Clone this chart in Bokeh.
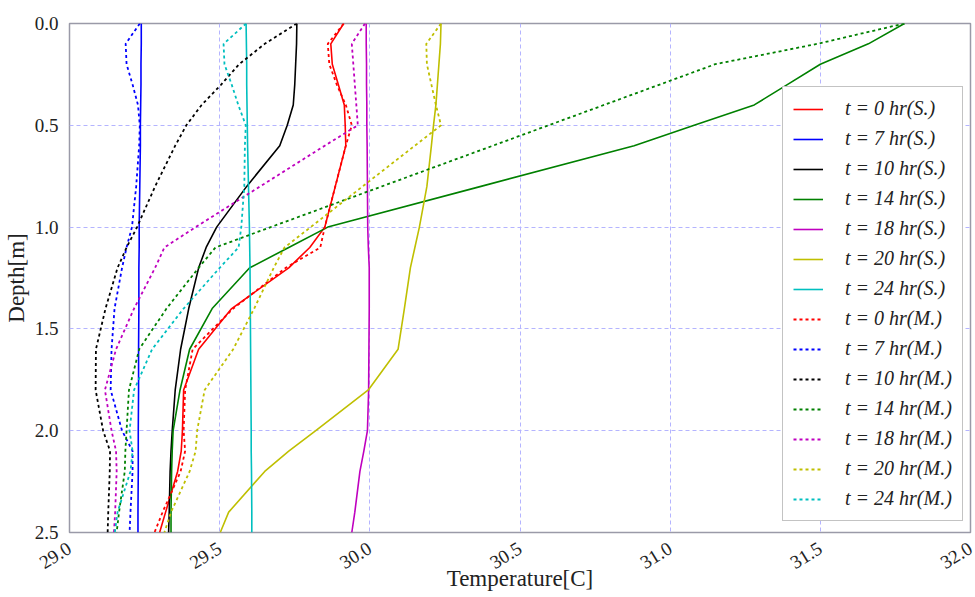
import math
from bokeh.plotting import figure
from bokeh.models import Range1d, Legend, LegendItem, FixedTicker, NumeralTickFormatter
from bokeh.embed import file_html
from bokeh.resources import INLINE

# ---------------- data ----------------
depth = [0.0, 0.1, 0.2, 0.3, 0.4, 0.5, 0.6, 0.8, 1.0, 1.1, 1.2, 1.4, 1.6, 1.8, 2.0, 2.1, 2.2, 2.4, 2.5]

# simulation (S.)
t0_s  = [29.913, 29.870, 29.875, 29.895, 29.915, 29.918, 29.920, 29.885, 29.850, 29.800, 29.730, 29.540, 29.430, 29.380, 29.376, 29.372, 29.360, 29.320, 29.300]
t7_s  = [29.239, 29.239, 29.238, 29.238, 29.237, 29.236, 29.236, 29.234, 29.232, 29.232, 29.231, 29.231, 29.230, 29.230, 29.229, 29.229, 29.229, 29.228, 29.228]
t10_s = [29.757, 29.756, 29.753, 29.750, 29.745, 29.725, 29.700, 29.590, 29.490, 29.455, 29.430, 29.397, 29.370, 29.352, 29.342, 29.338, 29.335, 29.332, 29.330]
t14_s = [31.780, 31.660, 31.500, 31.390, 31.280, 31.080, 30.880, 30.370, 29.860, 29.730, 29.600, 29.475, 29.400, 29.368, 29.345, 29.342, 29.340, 29.338, 29.338]
t18_s = [29.988, 29.988, 29.989, 29.989, 29.990, 29.990, 29.991, 29.992, 29.993, 29.995, 29.998, 29.998, 29.997, 29.996, 29.992, 29.980, 29.967, 29.950, 29.940]
t20_s = [30.237, 30.235, 30.230, 30.225, 30.220, 30.212, 30.205, 30.190, 30.165, 30.150, 30.135, 30.115, 30.094, 29.995, 29.820, 29.730, 29.650, 29.530, 29.502]
t24_s = [29.588, 29.589, 29.590, 29.590, 29.591, 29.592, 29.593, 29.596, 29.599, 29.600, 29.601, 29.602, 29.603, 29.604, 29.605, 29.605, 29.606, 29.607, 29.607]

# measurement (M.)
t0_m  = [29.913, 29.860, 29.865, 29.890, 29.920, 29.940, 29.920, 29.885, 29.850, 29.835, 29.720, 29.545, 29.410, 29.385, 29.380, 29.385, 29.370, 29.310, 29.283]
t7_m  = [29.234, 29.187, 29.190, 29.210, 29.228, 29.234, 29.232, 29.222, 29.208, 29.190, 29.175, 29.150, 29.140, 29.137, 29.175, 29.210, 29.210, 29.203, 29.200]
t10_m = [29.757, 29.650, 29.565, 29.505, 29.440, 29.389, 29.352, 29.285, 29.225, 29.190, 29.160, 29.120, 29.088, 29.087, 29.112, 29.135, 29.134, 29.129, 29.127]
t14_m = [31.780, 31.490, 31.150, 30.965, 30.780, 30.595, 30.410, 30.040, 29.670, 29.486, 29.430, 29.323, 29.232, 29.198, 29.190, 29.186, 29.184, 29.165, 29.157]
t18_m = [29.984, 29.940, 29.945, 29.950, 29.955, 29.960, 29.850, 29.635, 29.420, 29.316, 29.285, 29.215, 29.155, 29.118, 29.140, 29.155, 29.157, 29.152, 29.148]
t20_m = [30.237, 30.188, 30.190, 30.205, 30.220, 30.237, 30.150, 29.976, 29.803, 29.716, 29.680, 29.615, 29.545, 29.450, 29.425, 29.420, 29.400, 29.338, 29.316]
t24_m = [29.588, 29.513, 29.516, 29.540, 29.562, 29.587, 29.584, 29.582, 29.572, 29.563, 29.500, 29.380, 29.275, 29.215, 29.200, 29.210, 29.203, 29.160, 29.151]

hours = [0, 7, 10, 14, 18, 20, 24]
colors = ["#ff0000", "#0000ff", "#000000", "#008000", "#bf00bf", "#bfbf00", "#00bfbf"]
sim_series = [t0_s, t7_s, t10_s, t14_s, t18_s, t20_s, t24_s]
meas_series = [t0_m, t7_m, t10_m, t14_m, t18_m, t20_m, t24_m]

x_ticks = [29.0, 29.5, 30.0, 30.5, 31.0, 31.5, 32.0]
y_ticks = [0.0, 0.5, 1.0, 1.5, 2.0, 2.5]

SERIF = "Liberation Serif"
TXT = "#222222"

p = figure(width=975, height=597, output_backend="svg", toolbar_location=None,
           x_range=Range1d(29.0, 32.0), y_range=Range1d(2.5, 0.0),
           min_border_left=69, min_border_right=5, min_border_top=23, min_border_bottom=65)

p.outline_line_color = "#9a9aa8"
p.outline_line_width = 1.5
p.background_fill_color = "white"
p.border_fill_color = "white"

for g in (p.xgrid, p.ygrid):
    g.grid_line_color = "#b4b4ff"
    g.grid_line_alpha = 1.0
    g.grid_line_dash = "4 3"
    g.grid_line_width = 1

p.xaxis.ticker = FixedTicker(ticks=x_ticks)
p.yaxis.ticker = FixedTicker(ticks=y_ticks)
p.xaxis.formatter = NumeralTickFormatter(format="0.0")
p.yaxis.formatter = NumeralTickFormatter(format="0.0")
for ax in (p.xaxis, p.yaxis):
    ax.axis_line_color = None
    ax.major_tick_line_color = None
    ax.minor_tick_line_color = None
    ax.major_label_text_font = SERIF
    ax.major_label_text_font_size = "19px"
    ax.major_label_text_color = TXT
    ax.axis_label_text_font = SERIF
    ax.axis_label_text_font_size = "23px"
    ax.axis_label_text_font_style = "normal"
    ax.axis_label_text_color = TXT
p.xaxis.major_label_orientation = 0.55
p.xaxis.axis_label = "Temperature[C]"
p.yaxis.axis_label = "Depth[m]"
p.yaxis.major_label_standoff = 5
p.yaxis.axis_label_standoff = 3
p.xaxis.major_label_standoff = 8
p.xaxis.axis_label_standoff = -12

items_s = []
items_m = []
for h, c, ts in zip(hours, colors, sim_series):
    r = p.line(ts, depth, line_color=c, line_width=1.6)
    items_s.append(LegendItem(label=f"t = {h} hr(S.)", renderers=[r]))
for h, c, tm in zip(hours, colors, meas_series):
    r = p.line(tm, depth, line_color=c, line_width=1.8, line_dash="3 3")
    items_m.append(LegendItem(label=f"t = {h} hr(M.)", renderers=[r]))

legend = Legend(items=items_s + items_m, location=(713, 11))
legend.label_text_font = SERIF
legend.label_text_font_style = "italic"
legend.label_text_font_size = "20px"
legend.label_text_color = TXT
legend.glyph_width = 30
legend.glyph_height = 22
legend.label_height = 22
legend.spacing = 7
legend.padding = 10
legend.label_standoff = 22
legend.border_line_color = "#888888"
legend.border_line_width = 1
legend.background_fill_color = "white"
legend.background_fill_alpha = 1.0
p.add_layout(legend, "center")

open("out.html", "w").write(file_html(p, INLINE))
